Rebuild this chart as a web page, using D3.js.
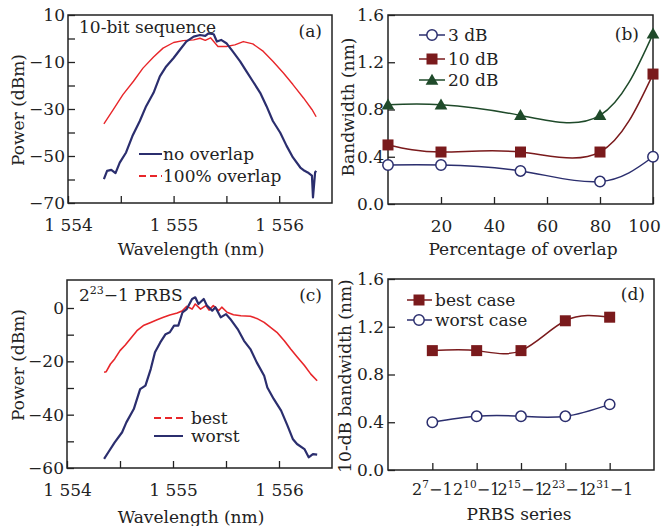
<!DOCTYPE html>
<html>
<head>
<meta charset="utf-8">
<script src="https://cdn.jsdelivr.net/npm/d3@7"></script>
<style>body{margin:0;background:#fff}</style>
</head>
<body>
<main></main>
<script>
// panel (a): 10-bit sequence spectra
const aNoOverlapWl = [1554.34,1554.37,1554.41,1554.45,1554.49,1554.55,1554.61,1554.68,1554.74,1554.81,1554.87,1554.93,1555.00,1555.06,1555.12,1555.19,1555.25,1555.30,1555.33,1555.38,1555.41,1555.45,1555.50,1555.56,1555.63,1555.69,1555.75,1555.82,1555.88,1555.94,1556.01,1556.07,1556.13,1556.20,1556.24,1556.27,1556.31,1556.32,1556.34,1556.35];
const aNoOverlapP = [-59.8,-56.3,-55.9,-57.3,-52.8,-48.5,-41.5,-35.1,-28.8,-23.1,-16.1,-11.9,-8.3,-4.8,-1.3,0.8,1.5,1.1,2.2,1.8,-1.3,-0.6,-2.0,-5.5,-9.7,-14.0,-18.2,-23.1,-28.8,-35.1,-40.1,-45.7,-50.6,-54.9,-56.3,-57.0,-58.4,-67.6,-57.0,-56.3];
const aFullOverlapWl = [1554.34,1554.43,1554.52,1554.62,1554.71,1554.81,1554.90,1555.00,1555.09,1555.19,1555.25,1555.30,1555.35,1555.42,1555.50,1555.58,1555.66,1555.75,1555.85,1555.94,1556.04,1556.13,1556.23,1556.31,1556.35];
const aFullOverlapP = [-36.3,-30.2,-23.9,-18.2,-12.6,-7.9,-4.1,-1.7,-0.9,-0.6,0.1,-0.8,0.3,-3.4,-3.4,-2.7,-1.3,-2.3,-5.5,-9.7,-14.7,-19.6,-25.3,-30.2,-33.3];

// panel (b): bandwidth vs overlap
const overlapPct = [0, 20, 50, 80, 100];
const bw3dB = [0.33, 0.33, 0.28, 0.19, 0.40];
const bw10dB = [0.50, 0.44, 0.44, 0.44, 1.10];
const bw20dB = [0.84, 0.84, 0.75, 0.75, 1.44];

// panel (c): 2^23-1 PRBS spectra
const cBestWl = [1554.35,1554.37,1554.41,1554.45,1554.50,1554.55,1554.60,1554.66,1554.72,1554.79,1554.85,1554.91,1554.97,1555.04,1555.09,1555.13,1555.18,1555.21,1555.26,1555.31,1555.34,1555.38,1555.43,1555.46,1555.51,1555.57,1555.64,1555.73,1555.79,1555.86,1555.92,1555.98,1556.05,1556.11,1556.17,1556.24,1556.30,1556.36];
const cBestP = [-24.1,-23.9,-21.0,-19.1,-16.0,-13.9,-11.4,-8.5,-6.6,-5.4,-4.4,-3.5,-2.6,-1.9,-1.0,0.6,-0.4,1.5,-0.4,0.9,-0.8,0.9,-1.0,0.3,-1.6,-2.5,-2.9,-3.1,-3.9,-5.4,-7.3,-9.1,-12.3,-15.4,-18.3,-21.6,-24.8,-27.3];
const cWorstWl = [1554.35,1554.39,1554.45,1554.52,1554.56,1554.63,1554.69,1554.74,1554.79,1554.83,1554.88,1554.93,1554.97,1555.01,1555.05,1555.09,1555.13,1555.18,1555.21,1555.24,1555.29,1555.32,1555.37,1555.40,1555.45,1555.50,1555.54,1555.61,1555.67,1555.73,1555.79,1555.86,1555.89,1555.95,1556.02,1556.08,1556.13,1556.17,1556.24,1556.28,1556.32,1556.36];
const cWorstP = [-56.6,-54.1,-50.4,-46.6,-42.9,-37.9,-30.4,-29.1,-22.9,-16.6,-12.9,-9.8,-9.1,-6.6,-6.6,-1.6,-0.4,3.4,4.0,1.5,3.4,0.9,-1.0,0.3,-3.5,-2.3,-4.1,-7.9,-12.3,-15.4,-20.4,-25.4,-29.8,-34.1,-38.5,-44.1,-49.1,-51.0,-52.9,-56.0,-54.8,-55.0];

// panel (d): 10-dB bandwidth vs PRBS
const prbsExp = ["7", "10", "15", "23", "31"];
const bestCase = [1.00, 1.00, 1.00, 1.25, 1.28];
const worstCase = [0.40, 0.45, 0.45, 0.45, 0.55];

const FONT = "DejaVu Serif";
const FS = 17;
const INK = "#222";
const NAVY = "#2b2e6e";
const RED = "#e8262a";
const DARKRED = "#7a1a1c";
const GREEN = "#1f4a2a";

const svg = d3.select("main").append("svg")
    .attr("width", 664).attr("height", 526)
    .style("font-family", FONT);

const fmtMinus = (d) => d < 0 ? "\u2212" + Math.abs(d) : String(d);

const addAxis = (axis, transform) => {
    const a = svg.append("g").attr("transform", transform).call(axis);
    a.select(".domain").remove();
    a.selectAll("line").attr("stroke", INK).attr("stroke-width", 1.3);
    a.selectAll("text").attr("font-family", FONT).attr("font-size", FS).attr("fill", INK);
    return a;
};

const frame = (b) => {
    svg.append("rect")
       .attr("x", b.l).attr("y", b.t)
       .attr("width", b.r - b.l).attr("height", b.b - b.t)
       .attr("fill", "none").attr("stroke", INK).attr("stroke-width", 1.5);
};

const text = (x, y, s, anchor, size) => {
    return svg.append("text")
       .attr("x", x).attr("y", y)
       .attr("text-anchor", anchor || "start")
       .attr("font-size", size || FS)
       .attr("fill", INK)
       .text(s);
};

const yTitle = (x, y, s) => {
    svg.append("text")
       .attr("transform", `translate(${x},${y}) rotate(-90)`)
       .attr("text-anchor", "middle")
       .attr("dy", "0.35em")
       .attr("font-size", FS)
       .attr("fill", INK)
       .text(s);
};

const spectrumPanel = (b, yDomain, yMajor, yMinor) => {
    const x = d3.scaleLinear().domain([1554, 1556.5]).range([b.l, b.r]);
    const y = d3.scaleLinear().domain(yDomain).range([b.b, b.t]);
    addAxis(d3.axisBottom(x).tickValues([1554, 1555, 1556]).tickSize(-7).tickPadding(16)
        .tickFormat((d) => "1 " + String(d).slice(1)), `translate(0,${b.b})`);
    addAxis(d3.axisBottom(x).tickValues([1554.5, 1555.5]).tickSize(-7).tickFormat(""), `translate(0,${b.b})`);
    addAxis(d3.axisLeft(y).tickValues(yMajor).tickSize(-7).tickPadding(3).tickFormat(fmtMinus), `translate(${b.l},0)`);
    addAxis(d3.axisLeft(y).tickValues(yMinor).tickSize(-7).tickFormat(""), `translate(${b.l},0)`);
    return {x, y};
};

const drawSpectrum = (s, wl, p, color, w) => {
    const line = d3.line().x((d, i) => s.x(wl[i])).y((d) => s.y(d));
    svg.append("path").datum(p)
       .attr("d", line)
       .attr("fill", "none").attr("stroke", color).attr("stroke-width", w)
       .attr("stroke-linejoin", "round");
};

const legendLine = (x1, x2, y, color, dash, w) => {
    svg.append("line")
       .attr("x1", x1).attr("x2", x2).attr("y1", y).attr("y2", y)
       .attr("stroke", color).attr("stroke-width", w)
       .attr("stroke-dasharray", dash || null);
};

const marker = (g, kind, cx, cy, color) => {
    if (kind === "circle") {
        g.append("circle").attr("cx", cx).attr("cy", cy).attr("r", 5.2)
         .attr("fill", "#fff").attr("stroke", color).attr("stroke-width", 1.5);
    } else if (kind === "square") {
        g.append("rect").attr("x", cx - 5.5).attr("y", cy - 5.5).attr("width", 11).attr("height", 11)
         .attr("fill", color);
    } else {
        g.append("path").attr("d", d3.symbol(d3.symbolTriangle, 70)())
         .attr("transform", `translate(${cx},${cy + 1})`).attr("fill", color);
    }
};

// ---- (a)
const boxA = {l: 68, r: 332, t: 15, b: 203};
const sA = spectrumPanel(boxA, [-70, 10], [10, -10, -30, -50, -70], [0, -20, -40, -60]);
drawSpectrum(sA, aFullOverlapWl, aFullOverlapP, RED, 1.4);
drawSpectrum(sA, aNoOverlapWl, aNoOverlapP, NAVY, 2.2);
frame(boxA);
text(79, 33, "10-bit sequence");
text(322, 37, "(a)", "end");
legendLine(139, 162, 154, NAVY, null, 2);
text(163, 160, "no overlap");
legendLine(139, 162, 176, RED, "7,4", 2);
text(163, 182, "100% overlap");
yTitle(18, 110, "Power (dBm)");
text(191, 255, "Wavelength (nm)", "middle");

// ---- (b)
const boxB = {l: 388, r: 653, t: 15, b: 204};
const xB = d3.scaleLinear().domain([0, 100]).range([boxB.l, boxB.r]);
const yB = d3.scaleLinear().domain([0, 1.6]).range([boxB.b, boxB.t]);
const axB = addAxis(d3.axisBottom(xB).tickValues([20, 40, 60, 80, 100]).tickSize(-7).tickPadding(16), `translate(0,${boxB.b})`);
axB.selectAll("text").filter((d) => d === 100).attr("dx", -9); // keep "100" inside the window
addAxis(d3.axisLeft(yB).tickValues([0, 0.4, 0.8, 1.2, 1.6]).tickSize(-7).tickPadding(4).tickFormat(d3.format(".1f")), `translate(${boxB.l},0)`);
const seriesB = [
    {vals: bw3dB, color: NAVY, kind: "circle", name: "3 dB"},
    {vals: bw10dB, color: DARKRED, kind: "square", name: "10 dB"},
    {vals: bw20dB, color: GREEN, kind: "triangle", name: "20 dB"}
];
const lineB = d3.line().curve(d3.curveNatural).x((d, i) => xB(overlapPct[i])).y((d) => yB(d));
frame(boxB);
seriesB.forEach((s, k) => {
    svg.append("path").datum(s.vals).attr("d", lineB)
       .attr("fill", "none").attr("stroke", s.color).attr("stroke-width", 1.5);
    const g = svg.append("g");
    s.vals.forEach((v, i) => marker(g, s.kind, xB(overlapPct[i]), yB(v), s.color));
    const ly = [35, 59, 80][k];
    legendLine(419, 445, ly, s.color, null, 1.5);
    marker(svg.append("g"), s.kind, 432, ly, s.color);
    text(448, ly + 6, s.name);
});
text(639, 40, "(b)", "end");
yTitle(348, 107, "Bandwidth (nm)");
text(523, 255, "Percentage of overlap", "middle");

// ---- (c)
const boxC = {l: 67, r: 332, t: 280, b: 468};
const sC = spectrumPanel(boxC, [-60, 10.5], [0, -20, -40, -60], [-10, -30, -50]);
drawSpectrum(sC, cBestWl, cBestP, RED, 1.6);
drawSpectrum(sC, cWorstWl, cWorstP, NAVY, 2.2);
frame(boxC);
const t23 = text(79, 301, "2");
t23.append("tspan").attr("font-size", 11).attr("dy", -7).text("23");
t23.append("tspan").attr("dy", 7).text("\u22121 PRBS");
text(322, 301, "(c)", "end");
legendLine(154, 183, 418, RED, "7,4", 2);
text(191, 424, "best");
legendLine(154, 183, 436, NAVY, null, 2);
text(191, 442, "worst");
yTitle(18, 365, "Power (dBm)");
text(191, 523, "Wavelength (nm)", "middle");

// ---- (d)
const boxD = {l: 388, r: 654, t: 279, b: 470};
const xD = d3.scaleLinear().domain([-1, 5]).range([boxD.l, boxD.r]);
const yD = d3.scaleLinear().domain([0, 1.6]).range([boxD.b, boxD.t]);
addAxis(d3.axisBottom(xD).tickValues(d3.range(prbsExp.length)).tickSize(-7).tickFormat(""), `translate(0,${boxD.b})`);
addAxis(d3.axisLeft(yD).tickValues([0, 0.4, 0.8, 1.2, 1.6]).tickSize(-7).tickPadding(4).tickFormat(d3.format(".1f")), `translate(${boxD.l},0)`);
prbsExp.forEach((e, i) => {
    const t = text(xD(i), 495, "2", "middle", 16);
    t.append("tspan").attr("font-size", 10.5).attr("dy", -7).text(e);
    t.append("tspan").attr("dy", 7).text("\u22121");
});
frame(boxD);
const seriesD = [
    {vals: bestCase, color: DARKRED, kind: "square", name: "best case"},
    {vals: worstCase, color: NAVY, kind: "circle", name: "worst case"}
];
const lineD = d3.line().curve(d3.curveNatural).x((d, i) => xD(i)).y((d) => yD(d));
seriesD.forEach((s, k) => {
    svg.append("path").datum(s.vals).attr("d", lineD)
       .attr("fill", "none").attr("stroke", s.color).attr("stroke-width", 1.5);
    const g = svg.append("g");
    s.vals.forEach((v, i) => marker(g, s.kind, xD(i), yD(v), s.color));
    const ly = [300, 320][k];
    legendLine(407, 432, ly, s.color, null, 1.5);
    marker(svg.append("g"), s.kind, 419, ly, s.color);
    text(435, ly + 6, s.name);
});
text(645, 300, "(d)", "end");
yTitle(345, 376, "10-dB bandwidth (nm)");
text(519, 520, "PRBS series", "middle");
</script>
</body>
</html>
